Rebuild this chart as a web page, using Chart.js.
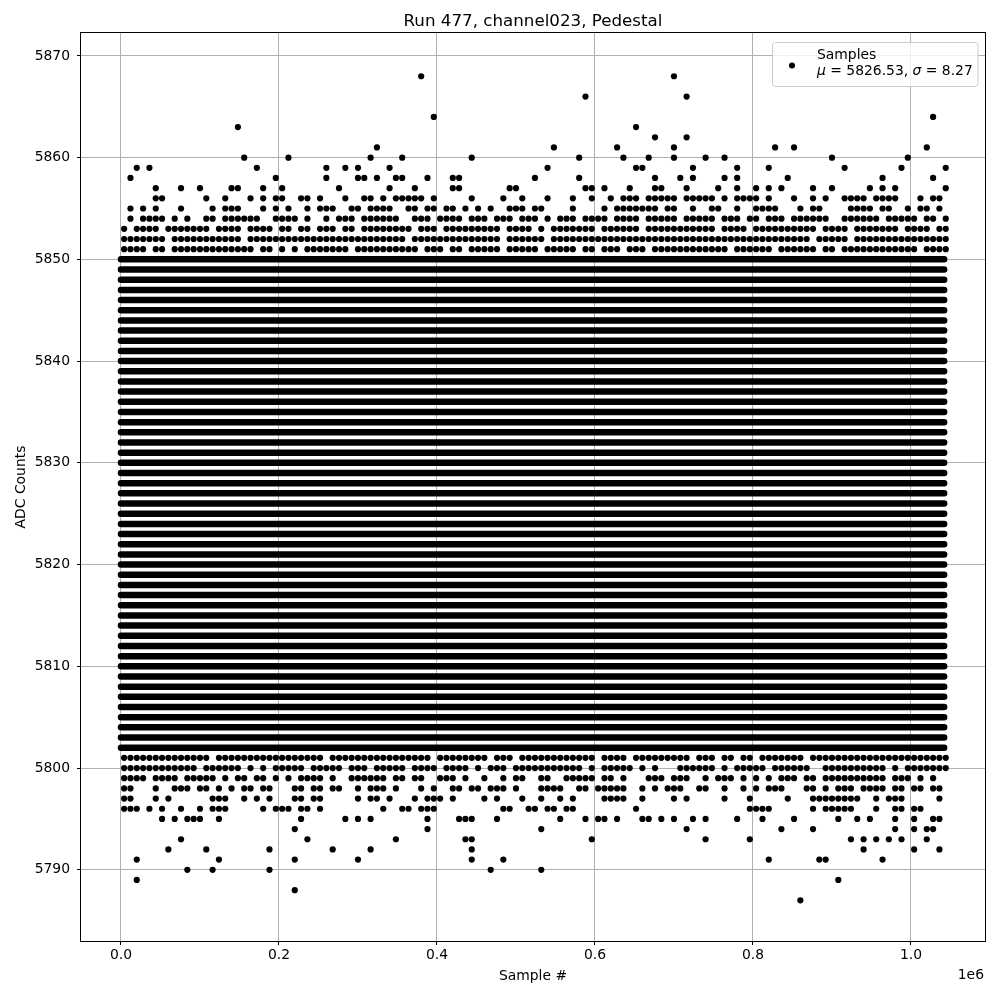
<!DOCTYPE html>
<html>
<head>
<meta charset="utf-8">
<script src="https://cdn.jsdelivr.net/npm/chart.js@4.4.0/dist/chart.umd.min.js"></script>
<style>
  html, body { margin: 0; padding: 0; background: #fff; }
  #wrap { width: 1000px; height: 1000px; }
</style>
</head>
<body>
<div id="wrap"><canvas id="chart"></canvas></div>
<script>
// Run 477 pedestal samples, channel023
const chartTitle = 'Run 477, channel023, Pedestal';
const xLabel = 'Sample #';
const yLabel = 'ADC Counts';
const seriesName = 'Samples';
const statMean = 5826.53;
const statSigma = 8.27;

const xTicks = [0, 200000, 400000, 600000, 800000, 1000000];
const yTicks = [5790, 5800, 5810, 5820, 5830, 5840, 5850, 5860, 5870];
const xRange = [-50600, 1093700];
const yRange = [5783.0, 5872.25];

// levels where samples fill the whole run
const solidLevels = [5802, 5803, 5804, 5805, 5806, 5807, 5808, 5809, 5810, 5811,
  5812, 5813, 5814, 5815, 5816, 5817, 5818, 5819, 5820, 5821, 5822, 5823, 5824,
  5825, 5826, 5827, 5828, 5829, 5830, 5831, 5832, 5833, 5834, 5835, 5836, 5837,
  5838, 5839, 5840, 5841, 5842, 5843, 5844, 5845, 5846, 5847, 5848, 5849, 5850];
const solidStart = 0;
const solidEnd = 1042000;

// sparser levels: sample positions in blocks of 8000 samples ([a, b] = every block a..b)
const binWidth = 8000;
const sparseLevels = [5868, 5866, 5864, 5863, 5862, 5861, 5860, 5859, 5858, 5857,
  5856, 5855, 5854, 5853, 5852, 5851,
  5801, 5800, 5799, 5798, 5797, 5796, 5795, 5794, 5793, 5792, 5791, 5790, 5789, 5788, 5787];
const sparseRuns = [
  [47, 87],
  [73, 89],
  [49, 128],
  [18, 81],
  [84, 89],
  [40, 68, 78, 87, 103, 106, 127],
  [19, 26, 39, 44, 55, 72, 79, 83, 87, 92, 95, 112, 124],
  [2, 4, 21, 32, 35, 37, 42, 67, 81, 82, 90, 97, 102, 114, 123, 130],
  [1, 24, 32, [37, 38], 40, [43, 44], 48, [52, 53], 65, 72, 84, 88, 90, 95, 97, 105, 120, 128],
  [5, 9, 12, [17, 18], 22, 25, 34, 42, 46, [52, 53], [61, 62], [73, 74], 76, 80, [84, 85], 89, 94,
    97, 100, 102, 104, 109, 112, 118, 120, 122, 130],
  [[5, 6], 13, 16, 20, 22, [24, 25], [28, 29], 31, 35, [38, 39], 41, [43, 47], 49, 55, 60, 63, 67,
    71, 74, 77, [79, 81], [83, 87], [89, 93], 95, [97, 100], 102, 106, 109, 111, [114, 117],
    [119, 122], 126, [128, 129]],
  [1, 3, 5, 9, 14, [16, 18], 22, 24, 26, 29, [31, 33], [36, 37], [39, 42], [45, 46], [48, 49],
    [51, 52], 54, 56, 58, [61, 63], [65, 66], 71, 76, [78, 84], [86, 87], 90, [93, 94], 97,
    [100, 103], 107, [109, 110], [115, 118], [120, 121], 124, [126, 127], 129],
  [1, [3, 6], 8, 10, [13, 14], [16, 21], [24, 27], 29, 32, [34, 36], [38, 43], [46, 48], [50, 53],
    [55, 57], [59, 61], [63, 65], 67, [69, 71], [73, 76], [78, 81], [83, 87], [89, 93], [95, 97],
    [99, 100], [102, 104], [106, 111], [114, 119], [121, 125], [127, 128], 130],
  [0, [2, 5], [7, 13], [15, 18], [20, 23], [25, 26], [28, 29], [31, 33], [35, 36], [38, 45],
    [47, 49], [51, 59], [61, 64], 66, [68, 74], [76, 81], [83, 93], [95, 98], [100, 109],
    [111, 114], [116, 122], [124, 127], [129, 130]],
  [[0, 6], [8, 18], [20, 44], [46, 59], [61, 66], [68, 108], [110, 114], [116, 130]],
  [[0, 3], [5, 6], [8, 20], [22, 23], 25, 27, [29, 35], [37, 46], [48, 50], [52, 53], [55, 59],
    [61, 65], [67, 71], [73, 74], [76, 78], [80, 82], [84, 95], [97, 102], [104, 109], [111, 112],
    [114, 125], [127, 130]],
  [[0, 13], [15, 31], [33, 48], [50, 57], [59, 61], [63, 74], [76, 79], [81, 89], [91, 93],
    [95, 96], [98, 99], [101, 107], [109, 130]],
  [[0, 11], [13, 18], 20, 22, [24, 28], [30, 34], [36, 38], [40, 44], [46, 49], [51, 54], 56,
    [58, 60], [62, 72], 74, [76, 80], 82, 84, [88, 93], 95, [97, 101], [103, 108], [111, 120],
    122, [124, 130]],
  [[0, 3], [5, 8], [10, 14], 16, [18, 19], [21, 22], 24, 26, [28, 31], 33, [36, 41], [43, 44],
    [46, 47], [50, 52], 54, 57, 60, [62, 63], [66, 67], [70, 74], [76, 77], 79, [83, 85], [87, 89],
    92, [94, 96], 98, 100, 102, [104, 106], [108, 109], [111, 120], [122, 124], 126, 128],
  [[0, 1], 5, [8, 10], [12, 13], 15, 17, [19, 20], [22, 23], [27, 28], [30, 31], [33, 34], 37,
    [39, 41], 43, 47, 49, [52, 53], [55, 56], [58, 60], 62, [66, 69], [72, 73], [75, 79], 82, 84,
    [86, 88], [91, 92], 95, 98, 100, [102, 104], [108, 109], 111, [113, 115], [117, 120],
    [122, 123], [125, 126], [128, 129]],
  [[0, 1], 5, 7, [14, 16], 19, 21, 23, [27, 28], [30, 31], 37, [39, 40], 42, 46, [48, 50], 52, 57,
    59, 63, 66, 69, 71, [76, 79], 82, 87, 89, 95, 99, 105, [109, 116], 119, [121, 123], 129],
  [[0, 2], 4, 6, 9, 12, [14, 16], 22, [24, 26], [28, 29], 31, 41, [44, 45], [47, 49], [60, 61],
    [64, 65], [67, 68], [70, 71], 81, [99, 102], 109, [111, 115], 119, [122, 123], [125, 126]],
  [6, 8, [10, 12], 15, 28, 35, 37, 39, 48, [53, 55], 59, 69, 73, [75, 76], 78, [82, 83], 85, 87, 90,
    92, 97, 101, 106, 113, 116, 118, 122, 125, [128, 129]],
  [27, 48, 66, 89, 104, 109, 122, 125, [127, 128]],
  [9, 29, 43, [54, 55], 74, 92, 99, 115, 117, 119, 121, 123, 127],
  [7, 13, 23, 33, 39, 55, 117, 125, 129],
  [2, 15, 27, 37, 55, 60, 102, [110, 111], 120],
  [10, 14, 23, 58, 66],
  [2, 113],
  [27],
  [107]
];

function expandRuns(runs) {
  const bins = [];
  runs.forEach(r => {
    if (Array.isArray(r)) {
      for (let b = r[0]; b <= r[1]; b++) bins.push(b);
    } else {
      bins.push(r);
    }
  });
  return bins;
}

const dotPoints = [];
sparseLevels.forEach((lvl, i) => {
  expandRuns(sparseRuns[i]).forEach(b => dotPoints.push({ x: (b + 0.5) * binWidth, y: lvl }));
});

const bandPoints = [];
solidLevels.forEach(lvl => {
  bandPoints.push({ x: solidStart, y: lvl }, { x: solidEnd, y: lvl }, { x: solidEnd, y: null });
});

const FONT = '"DejaVu Sans", sans-serif';
Chart.defaults.font.family = FONT;
Chart.defaults.font.size = 13.9;
Chart.defaults.color = '#000';

const overlay = {
  id: 'overlay',
  afterDraw(chart) {
    const { ctx, chartArea: a } = chart;
    ctx.save();
    // axes frame
    ctx.strokeStyle = '#000';
    ctx.lineWidth = 1;
    ctx.strokeRect(a.left - 0.5, a.top - 0.5, a.right - a.left + 1, a.bottom - a.top + 1);

    // title
    ctx.fillStyle = '#000';
    ctx.font = '16.7px ' + FONT;
    ctx.textAlign = 'center';
    ctx.textBaseline = 'middle';
    ctx.fillText(chartTitle, (a.left + a.right) / 2, 22);

    // offset text for x axis
    ctx.font = '13.9px ' + FONT;
    ctx.textAlign = 'right';
    ctx.fillText('1e6', a.right - 1, 975);

    // legend
    const bx = 772.5, by = 42.5, bw = 205.5, bh = 44;
    ctx.beginPath();
    ctx.roundRect(bx, by, bw, bh, 3);
    ctx.fillStyle = 'rgba(255,255,255,0.8)';
    ctx.fill();
    ctx.strokeStyle = '#cccccc';
    ctx.lineWidth = 1;
    ctx.stroke();

    ctx.fillStyle = '#000';
    ctx.beginPath();
    ctx.arc(792, 65.5, 3, 0, Math.PI * 2);
    ctx.fill();

    ctx.textAlign = 'left';
    ctx.textBaseline = 'alphabetic';
    ctx.font = '13.9px ' + FONT;
    ctx.fillText(seriesName, 817, 58.5);

    let tx = 817;
    const ty = 75;
    const parts = [
      ['μ', true], [' = ' + statMean.toFixed(2) + ', ', false],
      ['σ', true], [' = ' + statSigma.toFixed(2), false]
    ];
    parts.forEach(([txt, ital]) => {
      ctx.font = (ital ? 'italic ' : '') + '13.9px ' + FONT;
      ctx.fillText(txt, tx, ty);
      tx += ctx.measureText(txt).width;
    });
    ctx.restore();
  }
};

new Chart(document.getElementById('chart'), {
  type: 'scatter',
  data: {
    datasets: [
      {
        label: seriesName,
        data: dotPoints,
        pointRadius: 3.1,
        pointBackgroundColor: '#000',
        pointBorderWidth: 0,
        showLine: false
      },
      {
        type: 'line',
        label: seriesName + ' band',
        data: bandPoints,
        borderColor: '#000',
        borderWidth: 6.5,
        borderCapStyle: 'round',
        pointRadius: 0,
        spanGaps: false,
        fill: false
      }
    ]
  },
  options: {
    animation: false,
    responsive: true,
    maintainAspectRatio: false,
    events: [],
    layout: { padding: { top: 33, right: 15, left: 0, bottom: 0 } },
    plugins: {
      legend: { display: false },
      tooltip: { enabled: false },
      title: { display: false }
    },
    scales: {
      x: {
        type: 'linear',
        min: xRange[0],
        max: xRange[1],
        afterFit: s => { s.height = 59; },
        afterBuildTicks: s => { s.ticks = xTicks.map(v => ({ value: v })); },
        ticks: {
          padding: 2,
          maxRotation: 0,
          autoSkip: false,
          callback: v => (v / 1e6).toFixed(1)
        },
        grid: { color: '#b0b0b0', lineWidth: 1, tickColor: '#000', tickLength: 4 },
        border: { display: false },
        title: { display: true, text: xLabel, padding: { top: 0, bottom: 15 } }
      },
      y: {
        type: 'linear',
        min: yRange[0],
        max: yRange[1],
        afterFit: s => { s.width = 81; },
        afterBuildTicks: s => { s.ticks = yTicks.map(v => ({ value: v })); },
        ticks: { padding: 7, autoSkip: false, callback: v => String(v) },
        grid: { color: '#b0b0b0', lineWidth: 1, tickColor: '#000', tickLength: 4 },
        border: { display: false },
        title: { display: true, text: yLabel, padding: { top: 13, bottom: 0 } }
      }
    }
  },
  plugins: [overlay]
});
</script>
</body>
</html>
